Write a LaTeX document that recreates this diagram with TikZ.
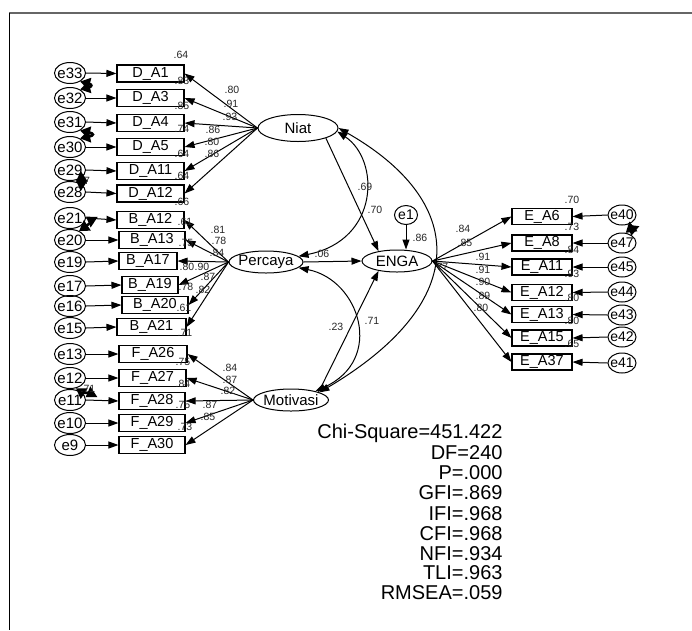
\documentclass[tikz,border=0pt]{standalone}
\usepackage{fontspec}
\setmainfont{Liberation Sans}
\usetikzlibrary{arrows.meta,shapes.geometric}
\begin{document}
\begin{tikzpicture}[x=1pt,y=-1pt,
  line width=1pt,
  tip/.style={-{Triangle[length=10pt,width=7pt]}},
  cov/.style={{Triangle[length=10pt,width=7pt]}-{Triangle[length=10pt,width=7pt]}},
  blob/.style={{Triangle[length=10pt,width=12pt]}-{Triangle[length=10pt,width=12pt]}, line width=2.5pt},
  obs/.style={draw, rectangle, line width=1.1pt, minimum height=17pt, inner sep=0pt, font=\fontsize{14.5}{15}\selectfont},
  err/.style={draw, ellipse, line width=1pt, minimum width=31pt, minimum height=21pt, inner xsep=-3pt, inner ysep=0pt, font=\fontsize{15}{15}\selectfont},
  errr/.style={err, minimum width=28pt, minimum height=20pt, font=\fontsize{14}{14}\selectfont},
  lat/.style={draw, ellipse, line width=1pt, inner xsep=-4pt, inner ysep=0pt, font=\fontsize{15}{15}\selectfont},
  num/.style={inner sep=0pt, font=\fontsize{10.5}{10.5}\selectfont, text=black!85},
  fitline/.style={anchor=east, inner sep=0pt, font=\fontsize{20}{20}\selectfont},
]
\useasboundingbox (0,0) rectangle (692,630);
\draw[black!60, line width=1.2pt] (9,13) -- (692,13);
\draw[black, line width=0.8pt] (9,13) -- (9,630);

% latent variables
\node[lat, minimum width=80pt, minimum height=27pt] (niat) at (298,128) {Niat};
\node[lat, minimum width=74pt, minimum height=22pt] (percaya) at (266,262) {Percaya};
\node[lat, minimum width=70pt, minimum height=22pt] (enga) at (397,261) {ENGA};
\node[lat, minimum width=75pt, minimum height=22pt] (motivasi) at (291,400) {Motivasi};
\node[err, minimum width=23pt, minimum height=19pt, font=\fontsize{14}{14}\selectfont] (res) at (406,215) {e1};

% left indicators
\foreach \n/\t/\cx/\w/\y/\e/\ey in {
 1/D\_A1/150.5/67/73.5/e33/73,
 2/D\_A3/150.5/67/98/e32/98,
 3/D\_A4/150.5/67/123/e31/122,
 4/D\_A5/150.5/67/147/e30/147,
 5/D\_A11/150.5/67/171/e29/170,
 6/D\_A12/150.5/67/193.5/e28/192,
 7/B\_A12/150.5/67/220/e21/218,
 8/B\_A13/152/66/240/e20/240,
 9/B\_A17/148/58/261/e19/262,
 10/B\_A19/150/56/285/e17/286,
 11/B\_A20/155/66/305/e16/306,
 12/B\_A21/151.5/69/327/e15/328,
 13/F\_A26/153/68/354/e13/354,
 14/F\_A27/152.5/67/378/e12/378,
 15/F\_A28/152/66/401/e11/400,
 16/F\_A29/152/66/423/e10/423,
 17/F\_A30/152/66/445/e9/445}
{
  \node[obs, minimum width=\w] (b\n) at (\cx,\y) {\t};
  \node[err] (el\n) at (70,\ey) {\e};
  \draw[tip] (el\n.east) -- (b\n.west);
}
\foreach \i in {1,...,6} \draw[tip] (niat.west) -- (b\i.east);
\foreach \i in {7,...,12} \draw[tip] (percaya.west) -- (b\i.east);
\foreach \i in {13,...,17} \draw[tip] (motivasi.west) -- (b\i.east);

% right indicators
\foreach \n/\t/\y/\e/\ey in {1/E\_A6/216.5/e40/215, 2/E\_A8/243/e47/243, 3/E\_A11/267/e45/267, 4/E\_A12/292.5/e44/292, 5/E\_A13/314.5/e43/315, 6/E\_A15/338/e42/337, 7/E\_A37/362/e41/363}
{
  \node[obs, minimum width=60, minimum height=16] (eb\n) at (542,\y) {\t};
  \node[errr] (er\n) at (622,\ey) {\e};
  \draw[tip] (er\n.west) -- (eb\n.east);
  \draw[tip] (enga.east) -- (eb\n.west);
}

% structural paths
\draw[tip] (niat.-20) -- (enga.152);
\draw[tip] (percaya.east) -- (enga.west);
\draw[tip] (motivasi.16) -- (enga.208);
\draw[tip] (res.south) -- (res.south |- enga.north);

% covariances
\draw[cov] (niat.-5) .. controls (380,160) and (380,240) .. (percaya.10);
\draw[cov] (niat.east) .. controls (465,200) and (475,300) .. (motivasi.15);
\draw[cov] (percaya.-10) .. controls (360,280) and (385,360) .. (motivasi.20);

% error covariances
\draw[blob] (el1.-40) .. controls +(12,3) and +(12,-3) .. (el2.40);
\draw[blob] (el3.-40) .. controls +(14,3) and +(14,-3) .. (el4.40);
\draw[blob] (el5.-60) .. controls +(6,4) and +(6,-4) .. (el6.60);
\draw[blob] (el7.5) .. controls +(6,4) and +(6,-4) .. (el8.45);
\draw[blob] (el14.-60) .. controls +(6,4) and +(6,-4) .. (el15.10);
\draw[blob] (er1.-60) .. controls +(6,5) and +(6,-5) .. (er2.70);

% numeric labels
\foreach \x/\y/\t [count=\k] in {
 181/55/.64, 182/81/.83, 182/106/.85, 182/129/.74, 182/154/.64, 182/176/.64, 182/202/.66,
 185/222/.61, 186/243/.75, 187/267/.80, 186/287/.78, 184/308/.61, 185/333/.71,
 183/362/.75, 183/384/.84, 183/405/.75, 185/427/.73,
 232/90/.80, 231/104/.91, 230/117/.93, 213/130/.86, 212/142/.80, 212/154/.86,
 218/230/.81, 219/241/.78, 217/253/.84, 202/267/.90, 208/277/.87, 203/290/.82,
 230/368/.84, 230/380/.87, 228/391/.82, 210/405/.87, 208/417/.85,
 463/229/.84, 465/243/.85, 483/257/.91, 483/270/.91, 483/282/.90, 483/296/.89, 481/308/.80,
 572/200/.70, 572/227/.73, 572/250/.84, 572/274/.93, 572/298/.80, 572/321/.80, 572/344/.65,
 365/187/.69, 375/210/.70, 322/254/.06, 336/327/.23, 372/321/.71, 420/238/.86, 441/267/.77,
 87/181/7, 88/389/.71}
{ \node[num] (n\k) at (\x,\y) {\t}; }

% fit statistics
\foreach \t/\y [count=\k] in {Chi-Square=451.422/433, DF=240/453, P=.000/473, GFI=.869/493, IFI=.968/514, CFI=.968/534, NFI=.934/554, TLI=.963/573, RMSEA=.059/593}
{ \node[fitline] (fit\k) at (503,\y) {\t}; }
\end{tikzpicture}
\end{document}
